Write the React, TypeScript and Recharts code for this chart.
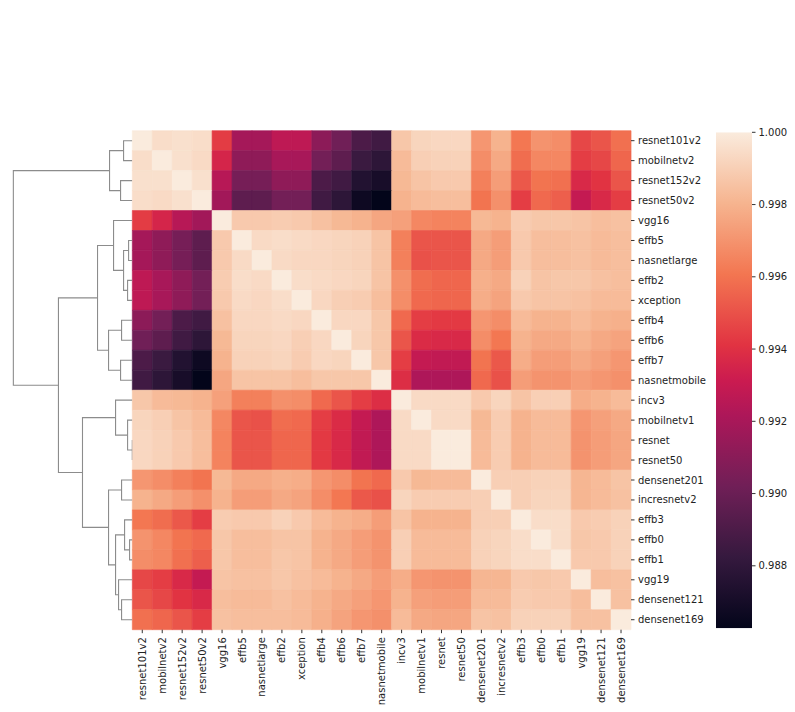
import { Bar, BarChart, Cell, Line, LineChart, XAxis, YAxis } from 'recharts';

// order of rows/columns after clustering
const MODELS = [
  'resnet101v2', 'mobilnetv2', 'resnet152v2', 'resnet50v2', 'vgg16', 'effb5', 'nasnetlarge',
  'effb2', 'xception', 'effb4', 'effb6', 'effb7', 'nasnetmobile', 'incv3', 'mobilnetv1',
  'resnet', 'resnet50', 'densenet201', 'incresnetv2', 'effb3', 'effb0', 'effb1', 'vgg19',
  'densenet121', 'densenet169',
];

// lower triangle of the similarity matrix (row i holds columns 0..i)
const LOWER = [
  [1.0],
  [0.9995, 1.0],
  [0.9996, 0.9996, 1.0],
  [0.9995, 0.9994, 0.9996, 1.0],
  [0.99437, 0.99355, 0.9925, 0.9918, 1.0],
  [0.9919, 0.9912, 0.9904, 0.9896, 0.9988, 1.0],
  [0.9919, 0.9912, 0.9904, 0.9896, 0.9988, 0.9994, 1.0],
  [0.9927, 0.992, 0.9912, 0.9903, 0.9989, 0.9995, 0.9994, 1.0],
  [0.9927, 0.992, 0.9912, 0.9903, 0.9988, 0.9994, 0.9993, 0.9995, 1.0],
  [0.9911, 0.9903, 0.989, 0.9886, 0.9985, 0.9993, 0.9993, 0.9994, 0.9993, 1.0],
  [0.9902, 0.9896, 0.9886, 0.9879, 0.9982, 0.9992, 0.9992, 0.9993, 0.999, 0.9993, 1.0],
  [0.989, 0.9884, 0.9875, 0.9867, 0.998, 0.9991, 0.9991, 0.9992, 0.9989, 0.9993, 0.9992, 1.0],
  [0.9886, 0.9879, 0.9871, 0.98627, 0.9976, 0.9986, 0.9986, 0.9986, 0.9984, 0.9987, 0.9987, 0.9987, 1.0],
  [0.9987, 0.9983, 0.9982, 0.998, 0.9974, 0.9964, 0.9964, 0.9969, 0.9968, 0.9957, 0.9951, 0.9944, 0.9939, 1.0],
  [0.9992, 0.999, 0.9986, 0.9983, 0.9966, 0.9951, 0.995, 0.9958, 0.9957, 0.9944, 0.9938, 0.9929, 0.9922, 0.9994, 1.0],
  [0.9993, 0.9991, 0.9988, 0.9984, 0.9965, 0.9951, 0.9951, 0.9956, 0.9956, 0.9943, 0.9937, 0.9928, 0.9922, 0.9994, 0.9994, 1.0],
  [0.9993, 0.9991, 0.9988, 0.9984, 0.9965, 0.9951, 0.9951, 0.9956, 0.9956, 0.9943, 0.9937, 0.9928, 0.9922, 0.9994, 0.9994, 1.0, 1.0],
  [0.9971, 0.9968, 0.9964, 0.996, 0.9982, 0.9977, 0.9977, 0.9979, 0.9978, 0.9971, 0.9968, 0.996, 0.9957, 0.9988, 0.9982, 0.9983, 0.9983, 1.0],
  [0.998, 0.9977, 0.9973, 0.9969, 0.998, 0.9973, 0.9973, 0.9977, 0.9975, 0.9968, 0.9961, 0.9952, 0.995, 0.9992, 0.9989, 0.9989, 0.9989, 0.999, 1.0],
  [0.9961, 0.9958, 0.9952, 0.9944, 0.9989, 0.9988, 0.9988, 0.9991, 0.9988, 0.9983, 0.998, 0.9978, 0.9973, 0.9986, 0.998, 0.998, 0.998, 0.999, 0.999, 1.0],
  [0.997, 0.9966, 0.996, 0.9957, 0.9987, 0.9984, 0.9984, 0.9986, 0.9986, 0.998, 0.9977, 0.9973, 0.997, 0.999, 0.9983, 0.9983, 0.9983, 0.9991, 0.9992, 0.9995, 1.0],
  [0.9968, 0.9966, 0.9959, 0.9954, 0.9987, 0.9984, 0.9984, 0.9987, 0.9986, 0.998, 0.9977, 0.9973, 0.997, 0.999, 0.9983, 0.9983, 0.9983, 0.9991, 0.9992, 0.9995, 0.9995, 1.0],
  [0.9947, 0.9944, 0.9937, 0.9929, 0.9986, 0.9985, 0.9985, 0.9987, 0.9985, 0.9983, 0.998, 0.9977, 0.9973, 0.9978, 0.9971, 0.997, 0.997, 0.9981, 0.9981, 0.9988, 0.9987, 0.9988, 1.0],
  [0.9951, 0.9947, 0.9941, 0.9937, 0.9984, 0.9983, 0.9983, 0.9985, 0.9983, 0.998, 0.9977, 0.9974, 0.9971, 0.998, 0.9974, 0.9973, 0.9973, 0.9983, 0.9983, 0.9989, 0.9988, 0.9988, 0.9984, 1.0],
  [0.9959, 0.9956, 0.9951, 0.9944, 0.9985, 0.9984, 0.9984, 0.9984, 0.9983, 0.9979, 0.9975, 0.9971, 0.9969, 0.9983, 0.9977, 0.9976, 0.9976, 0.9986, 0.9985, 0.9991, 0.9991, 0.9991, 0.9985, 0.9985, 1.0],
];

// row linkage: [left node, right node, merge distance]; nodes >= 25 are earlier merges
const LINKAGE: [number, number, number][] = [
  [15, 16, 0.0],
  [20, 21, 2.7],
  [5, 6, 3.7],
  [7, 8, 4.7],
  [14, 25, 4.7],
  [19, 26, 7.7],
  [0, 1, 8.7],
  [27, 28, 8.7],
  [9, 10, 10.7],
  [17, 18, 10.7],
  [23, 24, 10.7],
  [2, 3, 11.7],
  [11, 12, 11.7],
  [22, 35, 13.7],
  [13, 29, 16.7],
  [30, 38, 16.7],
  [4, 32, 18.7],
  [31, 36, 22.7],
  [33, 37, 23.7],
  [34, 40, 23.7],
  [41, 43, 34.7],
  [39, 44, 49.7],
  [45, 46, 73.7],
  [42, 47, 118.7],
];

const VMIN = 0.98627;
const VMAX = 1.0;
const CBAR_TICKS = [0.988, 0.99, 0.992, 0.994, 0.996, 0.998, 1.0];

// rocket colormap
const ROCKET: [number, number[]][] = [
  [0, [3, 5, 26]],
  [0.143, [53, 25, 62]],
  [0.286, [112, 31, 87]],
  [0.429, [173, 23, 89]],
  [0.5, [203, 27, 80]],
  [0.571, [225, 51, 66]],
  [0.714, [243, 118, 81]],
  [0.857, [246, 180, 143]],
  [1, [250, 235, 221]],
];

function rocket(t: number) {
  const c = Math.max(0, Math.min(1, t));
  for (let k = 1; k < ROCKET.length; k++) {
    const [t1, c1] = ROCKET[k];
    if (c <= t1) {
      const [t0, c0] = ROCKET[k - 1];
      const f = (c - t0) / (t1 - t0);
      const rgb = c0.map((v, i) => Math.round(v + (c1[i] - v) * f));
      return `rgb(${rgb.join(',')})`;
    }
  }
  return 'rgb(250,235,221)';
}

const cellValue = (i: number, j: number) => (i >= j ? LOWER[i][j] : LOWER[j][i]);
const cellColor = (v: number) => rocket((v - VMIN) / (VMAX - VMIN));

const W = 795;
const H = 712;
const FONT = 'DejaVu Sans';
const INK = '#222';

// one entry per column, each row stacked as a unit block
const columns = MODELS.map((name, j) => {
  const entry: Record<string, string | number> = { col: name, idx: j };
  MODELS.forEach((_, i) => {
    entry[`r${i}`] = 1;
  });
  return entry;
});

// dendrogram segments
const pos: number[] = MODELS.map((_, i) => i + 0.5);
const dist: number[] = MODELS.map(() => 0);
const links = LINKAGE.map(([a, b, h]) => {
  const pts = [
    { x: dist[a], y: pos[a] },
    { x: h, y: pos[a] },
    { x: h, y: pos[b] },
    { x: dist[b], y: pos[b] },
  ];
  pos.push((pos[a] + pos[b]) / 2);
  dist.push(h);
  return pts;
});
const maxDist = Math.max(...LINKAGE.map((l) => l[2]));

function RowTick({ x, y, payload }: any) {
  return (
    <text x={x} y={y} dy="0.35em" fontSize={10} fontFamily={FONT} fill={INK}>
      {MODELS[Math.floor(payload.value)]}
    </text>
  );
}

function ColTick({ x, y, payload }: any) {
  return (
    <g transform={`translate(${x},${y})`}>
      <text transform="rotate(-90)" textAnchor="end" dy="0.35em" fontSize={10} fontFamily={FONT} fill={INK}>
        {payload.value}
      </text>
    </g>
  );
}

const layer = { position: 'absolute' as const, left: 0, top: 0 };

export default function App() {
  return (
    <div style={{ position: 'absolute', left: 0, top: 0, width: W, height: H, background: '#fff', fontFamily: FONT }}>
      <svg width={0} height={0} style={{ position: 'absolute' }}>
        <defs>
          <linearGradient id="rocket-grad" x1="0" y1="0" x2="0" y2="1">
            {ROCKET.map(([t, c]) => (
              <stop key={t} offset={1 - t} stopColor={`rgb(${c.join(',')})`} />
            )).reverse()}
          </linearGradient>
        </defs>
      </svg>

      <div style={layer}>
        <BarChart
          width={W}
          height={H}
          data={columns}
          margin={{ top: 130.7, bottom: 12.3, left: 132.3, right: 84 }}
          barCategoryGap={0}
          barGap={0}
        >
          <XAxis
            dataKey="col"
            type="category"
            interval={0}
            height={70}
            axisLine={false}
            tickLine={{ stroke: '#333' }}
            tickSize={3.5}
            tickMargin={4}
            tick={<ColTick />}
          />
          <YAxis
            type="number"
            orientation="right"
            domain={[0, MODELS.length]}
            reversed
            ticks={MODELS.map((_, i) => i + 0.5)}
            interval={0}
            width={80}
            axisLine={false}
            tickLine={{ stroke: '#333' }}
            tickSize={3.5}
            tickMargin={3.5}
            tick={<RowTick />}
          />
          {MODELS.map((_, i) => (
            <Bar key={i} dataKey={`r${i}`} stackId="m" isAnimationActive={false}>
              {MODELS.map((__, j) => {
                const c = cellColor(cellValue(i, j));
                return <Cell key={j} fill={c} stroke={c} strokeWidth={0.6} />;
              })}
            </Bar>
          ))}
        </BarChart>
      </div>

      <div style={layer}>
        <LineChart width={W} height={H} margin={{ top: 130.7, bottom: 82.3, left: 7.4, right: 662.7 }}>
          <XAxis type="number" dataKey="x" domain={[0, maxDist * 1.05]} reversed hide allowDataOverflow />
          <YAxis type="number" domain={[0, MODELS.length]} reversed hide allowDataOverflow />
          {links.map((pts, k) => (
            <Line
              key={k}
              data={pts}
              dataKey="y"
              type="linear"
              stroke="#8c8c8c"
              strokeWidth={1.1}
              dot={false}
              activeDot={false}
              isAnimationActive={false}
            />
          ))}
        </LineChart>
      </div>

      <div style={layer}>
        <BarChart
          width={W}
          height={H}
          data={[{ name: 'cbar', range: [VMIN, VMAX] }]}
          margin={{ top: 132.3, bottom: 83.7, left: 716, right: 3 }}
          barCategoryGap={0}
        >
          <XAxis dataKey="name" hide />
          <YAxis
            type="number"
            orientation="right"
            domain={[VMIN, VMAX]}
            ticks={CBAR_TICKS}
            interval={0}
            width={40}
            axisLine={false}
            tickLine={{ stroke: '#333' }}
            tickSize={3.5}
            tickMargin={3}
            tickFormatter={(v: number) => v.toFixed(3)}
            tick={{ fontSize: 10, fontFamily: FONT, fill: INK }}
            allowDataOverflow
          />
          <Bar dataKey="range" fill="url(#rocket-grad)" isAnimationActive={false} />
        </BarChart>
      </div>
    </div>
  );
}
